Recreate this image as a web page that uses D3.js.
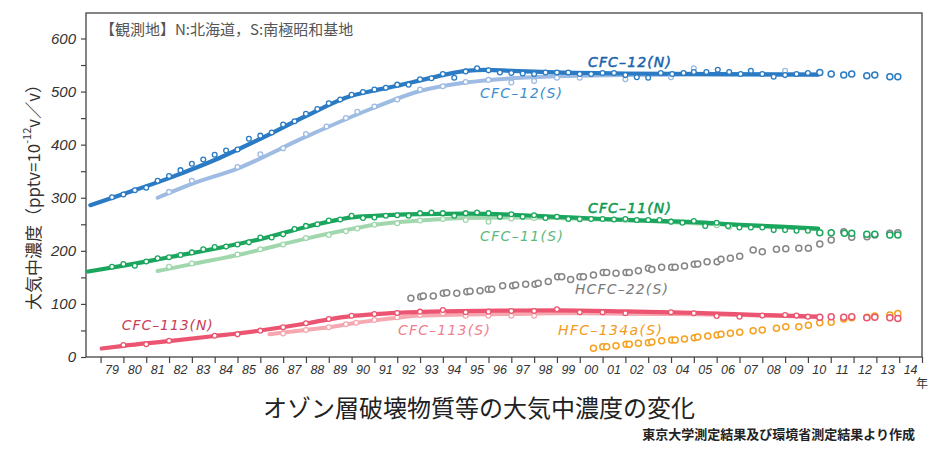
<!DOCTYPE html>
<html><head><meta charset="utf-8">
<script src="https://cdn.jsdelivr.net/npm/d3@7"></script>
<style>
html,body{margin:0;padding:0;background:#fff;}
svg{display:block;}
</style>
</head><body>
<svg id="chart" width="937" height="450"></svg>
<script>
// ---------- DATA ----------
const yearTicks = d3.range(1979, 2016);           // year boundaries
const yearLabels = d3.range(1979, 2015);          // labels "79" ... "14"
const valueTicks = d3.range(0, 601, 50);

// Trend lines (year, pptv)
const cfc12N_line = [[1978.55,286],[1980,307],[1982,337],[1984,371],[1986,411],[1988,454],[1990,492],[1991,502],[1992,511],[1993,521],[1994,531],[1995,539],[1995.9,541],[1997,539],[1999,536],[2002,534],[2006,533],[2010.45,532]];
const cfc12S_line = [[1981.5,300],[1983,326],[1985,355],[1988,415],[1991,470],[1993,501],[1995,517],[1997,525],[1999,529],[2002,531],[2006,532],[2010.45,532]];
const cfc11N_line = [[1978.45,161],[1980,172],[1982,188],[1984,204],[1986,222],[1988,245],[1989,255],[1990,263],[1991,266],[1993,269],[1995,270],[1997,268],[1999,264],[2001,260],[2003,257],[2005,254],[2007,249],[2009,245],[2010.45,242]];
const cfc11S_line = [[1981.5,162],[1983,175],[1985,192],[1988,223],[1990,241],[1991,249],[1993,257],[1995,262],[1997,263],[1999,262],[2001,259],[2003,256],[2005,252],[2007,248],[2009,244],[2010.45,241]];
const cfc113N_line = [[1979.05,16],[1980,21],[1982,30],[1984,39.5],[1986,50],[1988,63],[1989,71],[1990,77],[1991,80.5],[1992,83],[1994,86],[1997,87.5],[1999,88],[2002,86],[2005,83],[2008,79],[2010.45,76]];
const cfc113S_line = [[1986.4,43],[1988,51],[1989,56],[1990,63],[1991,69],[1992,74],[1993,78],[1995,80],[1997,81],[1999,82.5],[2001,82],[2003,81],[2005,80.5],[2007,79],[2009,77],[2010.45,75]];

// Observed points (year, pptv)
const cfc12N_pts = [[1979.5,301],[1980,306],[1980.5,314],[1981,319],[1981.5,332],[1982,341],[1982.5,352],[1983,364],[1983.5,372],[1984,381],[1984.5,389],[1985,391],[1985.5,411],[1986,417],[1986.5,423],[1987,438],[1987.5,444],[1988,458],[1988.5,467],[1989,478],[1989.5,485],[1990,494],[1990.5,499],[1991,504],[1991.5,507],[1992,513],[1992.5,513],[1993,523],[1993.5,525],[1994,533],[1994.5,526],[1995,538],[1995.5,544],[1996,540],[1996.5,536],[1997,535],[1997.5,534],[1998,533],[1998.5,536],[1999,536],[1999.5,536],[2000,533],[2000.5,533],[2001,535],[2001.5,535],[2002,531],[2002.5,527],[2003,526],[2003.55,535],[2004.05,533],[2004.55,535],[2005,537],[2005.55,537],[2006.05,541],[2006.55,537],[2007.05,533],[2007.5,539],[2008,533],[2008.5,528],[2009,531],[2009.5,533],[2010,535]];
const cfc12S_pts = [[1982,311],[1983,332],[1985,358],[1986,382],[1987,393],[1988,420],[1988.9,434],[1989.75,450],[1990.25,462],[1991,472],[1992,485],[1993,504],[1994,510],[1995,518],[1996,522],[1997,517],[1998,520],[1999,526],[2000,526],[2002,523],[2004,527],[2005,544],[2009,539]];
const cfc11N_pts = [[1979.5,170],[1980,175],[1980.5,172],[1981,180],[1981.5,186],[1982,188],[1982.5,192],[1983,197],[1983.5,203],[1984,207],[1984.5,208],[1985,212],[1985.5,216],[1986,225],[1986.5,225],[1987,231],[1987.5,241],[1988,247],[1988.5,250],[1989,257],[1989.5,259],[1990,266],[1990.5,262],[1991,263],[1991.5,266],[1992,267],[1992.5,266],[1993,271],[1993.5,272],[1994,271],[1994.5,266],[1995,271],[1995.5,272],[1996,271],[1996.5,264],[1997,269],[1997.5,264],[1998,267],[1998.5,262],[1999,264],[1999.5,260],[2000,260],[2000.5,260],[2001,260],[2001.5,259],[2002,260],[2002.5,258],[2003,258],[2003.5,258],[2004,255],[2004.5,253],[2005,256],[2005.5,247],[2006,253],[2006.5,247],[2007,244],[2007.5,244],[2008,244],[2008.5,239],[2009,239],[2009.5,238],[2010,238]];
const cfc11S_pts = [[1982,170],[1983,176],[1985,193],[1986,203],[1987,212],[1988,224],[1989,230],[1989.75,237],[1990.25,242],[1991,249],[1992,252],[1993,257],[1994,260],[1995,258],[1996,255],[1997,261],[1998,262],[2000,259],[2002,258],[2004,255],[2006,248],[2006.55,245]];
const cfc113N_pts = [[1980,22.6],[1981,24],[1982,30.7],[1984,40],[1985,42.7],[1986,49.6],[1987,56],[1988,63.5],[1989,71.6],[1990,77.8],[1991,81],[1992,82.9],[1993,85.4],[1994,88.5],[1995,84.2],[1996,85.4],[1997,86.7],[1998,86.7],[1999,89.8],[2000,84.2],[2001,84.2],[2002,82.3],[2004,84.2],[2005,82.3],[2006,77.2],[2007,76],[2008,78],[2009,79],[2009.5,78],[2010,76]];
const cfc113S_pts = [[1987,44.5],[1988,50.9],[1989,56],[1989.75,61.6],[1990.2,64.6],[1991,69.7],[1992,74.8],[1993,79],[1994,82.3],[1995,77.8],[1996,77.8],[1997,77.8],[1998,77.8]];

// Open circles after the trend lines end
const cfc12_after = [[2010.52,536],[2011.02,533],[2011.57,531],[2011.92,533],[2012.58,530],[2012.93,531],[2013.59,528],[2013.94,528]];
const cfc11_after = [[2010.52,234],[2011.02,234],[2011.6,233],[2011.92,233],[2012.58,231],[2012.93,231],[2013.59,230],[2013.94,230]];
const cfc113_after = [[2010.52,74.8],[2011.02,76],[2011.57,74.8],[2011.92,76],[2012.58,74],[2012.93,74.8],[2013.59,74],[2013.94,72.7]];
const hcfc22S_pts = [[1992.6,110.5],[1993.03,113.6],[1993.14,115],[1993.58,115],[1994.02,120],[1994.17,121],[1994.61,120],[1995.05,123],[1995.19,124],[1995.63,125],[1995.99,127.5],[1996.14,127.5],[1996.62,134],[1997.06,134],[1997.19,135.6],[1997.63,137],[1998.04,137],[1998.18,139],[1998.62,142],[1999.03,151],[1999.21,151],[1999.6,146],[2000.01,151],[2000.16,151],[2000.6,154.5],[2001.03,159],[2001.18,159],[2001.59,157.6],[2002.03,159],[2002.17,159],[2002.57,162.6],[2003.01,167],[2003.16,165],[2003.59,169],[2004.03,169],[2004.18,169],[2004.59,171.4],[2005.02,174.6],[2005.17,175],[2005.58,179.6],[2006.02,179.6],[2006.19,184],[2006.6,186],[2007.01,190],[2007.6,201.6],[2008.0,198.4],[2008.62,203],[2009.03,204],[2009.6,204.8],[2010.02,205],[2010.52,213],[2011.02,220.4],[2011.57,236],[2011.92,225.5],[2012.59,226.7],[2012.93,230],[2013.59,233],[2013.94,234]];
const hfc134aS_pts = [[2000.6,16.3],[2001.01,19.4],[2001.18,19.4],[2001.59,21.3],[2002.03,23.9],[2002.17,23.9],[2002.57,25.8],[2003.01,27],[2003.16,28.3],[2003.59,30.7],[2004.03,32],[2004.18,32],[2004.59,34],[2005.02,36.4],[2005.17,37.7],[2005.61,39.6],[2006.02,41.4],[2006.19,42.7],[2006.6,44.6],[2007.01,46.5],[2007.6,49.6],[2008.0,50.9],[2008.62,54],[2009.03,57],[2009.6,57],[2010.02,59.7],[2010.52,64.6],[2011.02,65.4],[2011.57,71.6],[2011.92,74],[2012.59,74.8],[2012.93,77.2],[2013.59,79],[2013.94,82]];

// Series labels (text, anchor year, anchor value)
const seriesLabels = [
  ["CFC–12(N)", 2000.36, 555.8],
  ["CFC–12(S)", 1995.63, 497.4],
  ["CFC–11(N)", 2000.36, 280.7],
  ["CFC–11(S)", 1995.63, 228.0],
  ["HCFC–22(S)", 1999.79, 128.1],
  ["CFC–113(N)", 1979.93, 60.3],
  ["CFC–113(S)", 1992.03, 50.9],
  ["HFC–134a(S)", 1999.05, 50.9]
];

const noteText = "【観測地】N:北海道，S:南極昭和基地";
const yTitle = ["大気中濃度（pptv=10", "-12", "v／v）"];
const unitText = "年";
const titleText = "オゾン層破壊物質等の大気中濃度の変化";
const sourceText = "東京大学測定結果及び環境省測定結果より作成";

// ---------- STYLES ----------
const C = {
  c12N:"#2a7bc3", c12S:"#9dbbe3", c11N:"#1ba65d", c11S:"#a0d7ad",
  c113N:"#ec5571", c113S:"#f6a7b0", hcfc:"#858585", hfc:"#f5a01e"
};
const labelStyle = {
  "CFC–12(N)":  {color:"#1a64ad", heavy:true,  w:83},
  "CFC–12(S)":  {color:"#3b8ed3", heavy:false, w:82},
  "CFC–11(N)":  {color:"#0e9a4c", heavy:true,  w:83},
  "CFC–11(S)":  {color:"#5cba7d", heavy:false, w:83},
  "HCFC–22(S)": {color:"#7a7a7a", heavy:false, w:93},
  "CFC–113(N)": {color:"#c93d5b", heavy:false, w:91},
  "CFC–113(S)": {color:"#f0808f", heavy:false, w:92},
  "HFC–134a(S)":{color:"#f39a1b", heavy:false, w:104}
};

// ---------- CHART ----------
const svg = d3.select("#chart");
const L = 86, R = 922, T = 13, B = 357;
const x = d3.scaleLinear().domain([1978.36, 2015]).range([L, R]);
const y = d3.scaleLinear().domain([0, 648]).range([B, T]);

const cjk = "'Noto Sans CJK JP','Noto Sans',sans-serif";
const num = "'Liberation Sans',Arial,sans-serif";
const lab = "'DejaVu Sans',Verdana,sans-serif";

// note
svg.append("text").attr("x", 100).attr("y", 28).attr("dominant-baseline","central")
  .attr("font-family", cjk).attr("font-size", 15).attr("fill", "#555").text(noteText);

// axes
const yAxis = d3.axisLeft(y).tickValues(valueTicks).tickSize(5).tickPadding(5)
  .tickFormat(d => d % 100 === 0 ? d : "");
const gy = svg.append("g").attr("transform", `translate(${L},0)`).call(yAxis);
gy.select(".domain").remove();
gy.selectAll(".tick line").attr("stroke", "#444").attr("stroke-width", 1.2);
gy.selectAll(".tick text").attr("font-family", num).attr("font-style","italic")
  .attr("font-size", 15).attr("fill", "#333");

const xAxis = d3.axisBottom(x).tickValues(yearTicks).tickSize(6).tickFormat("");
const gx = svg.append("g").attr("transform", `translate(0,${B})`).call(xAxis);
gx.select(".domain").remove();
gx.selectAll(".tick line").attr("stroke", "#444").attr("stroke-width", 1.2);

svg.append("g").selectAll("text").data(yearLabels).join("text")
  .attr("x", d => x(d + 0.5)).attr("y", 370).attr("text-anchor","middle")
  .attr("dominant-baseline","central")
  .attr("font-family", num).attr("font-style","italic").attr("font-size", 12.5).attr("fill","#333")
  .text(d => String(d % 100).padStart(2, "0"));

svg.append("text").attr("x", R).attr("y", 382).attr("text-anchor","middle")
  .attr("dominant-baseline","central").attr("font-family", cjk).attr("font-size", 12).attr("fill","#333")
  .text(unitText);

// frame
svg.append("rect").attr("x", L).attr("y", T).attr("width", R - L).attr("height", B - T)
  .attr("fill","none").attr("stroke","#444").attr("stroke-width",1.3);

// y title
const yt = svg.append("text").attr("transform", `translate(32,${(78+308)/2}) rotate(-90)`)
  .attr("text-anchor","middle").attr("dominant-baseline","central")
  .attr("font-family", cjk).attr("font-size", 17).attr("fill","#333");
yt.append("tspan").text(yTitle[0]);
yt.append("tspan").attr("dy", -6).attr("font-size", 11).text(yTitle[1]);
yt.append("tspan").attr("dy", 6).text(yTitle[2]);

// lines
const line = d3.line().x(d => x(d[0])).y(d => y(d[1])).curve(d3.curveMonotoneX);
const plot = svg.append("g");
function drawLine(data, color, w) {
  plot.append("path").datum(data).attr("d", line).attr("fill","none")
    .attr("stroke", color).attr("stroke-width", w).attr("stroke-linecap","round").attr("stroke-linejoin","round");
}
function drawPts(data, color, r, sw) {
  plot.append("g").selectAll("circle").data(data).join("circle")
    .attr("cx", d => x(d[0])).attr("cy", d => y(d[1])).attr("r", r)
    .attr("fill","#fff").attr("stroke", color).attr("stroke-width", sw);
}
drawLine(cfc12S_line, C.c12S, 4);
drawLine(cfc11S_line, C.c11S, 4);
drawLine(cfc113S_line, C.c113S, 4);
drawLine(cfc12N_line, C.c12N, 4.2);
drawLine(cfc11N_line, C.c11N, 4.2);
drawLine(cfc113N_line, C.c113N, 4.2);

drawPts(cfc12S_pts, C.c12S, 2.4, 1.3);
drawPts(cfc11S_pts, C.c11S, 2.4, 1.3);
drawPts(cfc113S_pts, C.c113S, 2.4, 1.3);
drawPts(cfc12N_pts, C.c12N, 2.4, 1.3);
drawPts(cfc11N_pts, C.c11N, 2.4, 1.3);
drawPts(cfc113N_pts, C.c113N, 2.4, 1.3);

drawPts(hcfc22S_pts, C.hcfc, 3, 1.5);
drawPts(hfc134aS_pts, C.hfc, 3, 1.5);
drawPts(cfc12_after, C.c12N, 3, 1.5);
drawPts(cfc11_after, C.c11N, 3, 1.5);
drawPts(cfc113_after, C.c113N, 3, 1.5);

// series labels
svg.append("g").selectAll("text").data(seriesLabels).join("text")
  .attr("x", d => x(d[1])).attr("y", d => y(d[2])).attr("dominant-baseline","central")
  .attr("font-family", lab).attr("font-style","italic").attr("font-size", 14)
  .attr("fill", d => labelStyle[d[0]].color)
  .attr("stroke", d => labelStyle[d[0]].heavy ? labelStyle[d[0]].color : "none")
  .attr("stroke-width", 0.5)
  .attr("textLength", d => labelStyle[d[0]].w).attr("lengthAdjust","spacing")
  .text(d => d[0]);

// title & source
svg.append("text").attr("x", 263).attr("y", 406).attr("dominant-baseline","central")
  .attr("font-family", cjk).attr("font-size", 24).attr("fill","#222").text(titleText);
svg.append("text").attr("x", 915).attr("y", 433).attr("text-anchor","end").attr("dominant-baseline","central")
  .attr("font-family", cjk).attr("font-size", 13).attr("font-weight","bold").attr("fill","#222").text(sourceText);
</script>
</body></html>
